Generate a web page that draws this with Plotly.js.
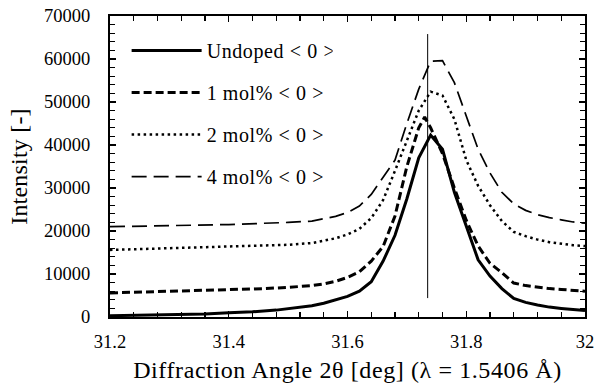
<!DOCTYPE html>
<html>
<head>
<meta charset="utf-8">
<script src="https://cdn.plot.ly/plotly-3.0.1.min.js"></script>
<style>
html,body{margin:0;padding:0;background:#fff;}
#chart{width:598px;height:389px;}
#chart text.xtitle{letter-spacing:0.6px;}
#chart text.ytitle{letter-spacing:0.2px;}
#chart text.legendtext{letter-spacing:0.6px;}
</style>
</head>
<body>
<div id="chart"></div>
<script>
// Series names
const seriesNames = ['Undoped < 0 >', '1 mol% < 0 >', '2 mol% < 0 >', '4 mol% < 0 >'];

// Undoped
const xUndoped = [31.20,31.24,31.30,31.36,31.40,31.44,31.48,31.50,31.52,31.54,31.56,31.58,31.60,31.62,31.64,31.66,31.68,31.70,31.72,31.74,31.76,31.78,31.80,31.82,31.84,31.86,31.88,31.90,31.92,31.94,31.96,31.98,32.00];
const yUndoped = [300,400,500,700,1000,1200,1600,1900,2200,2600,3200,4000,4800,6000,8200,13000,19000,27500,37000,42300,39000,29000,21000,13300,9500,6600,4300,3400,2800,2300,2000,1700,1500];

// 1 mol%
const x1mol = [31.20,31.26,31.30,31.36,31.40,31.46,31.50,31.54,31.56,31.58,31.60,31.62,31.64,31.66,31.68,31.70,31.72,31.73,31.74,31.76,31.78,31.80,31.82,31.84,31.86,31.88,31.90,31.92,31.94,31.96,31.98,32.00];
const y1mol = [5600,5800,6000,6100,6300,6600,6900,7300,7700,8300,9200,10500,13000,16400,23500,35000,44000,46500,44000,38000,30000,22500,16500,12500,10300,7900,7300,6900,6600,6400,6200,6000];

// 2 mol%
const x2mol = [31.20,31.30,31.40,31.50,31.54,31.58,31.60,31.62,31.64,31.66,31.68,31.70,31.72,31.74,31.76,31.78,31.80,31.82,31.84,31.86,31.88,31.90,31.92,31.94,31.96,31.98,32.00];
const y2mol = [15600,16000,16400,16800,17200,18300,19200,20500,23000,27200,34000,41000,48000,52400,51500,46000,36500,30500,26000,22300,19800,18800,18000,17400,17000,16700,16500];

// 4 mol%
const x4mol = [31.20,31.30,31.40,31.50,31.54,31.58,31.60,31.62,31.64,31.66,31.68,31.70,31.72,31.74,31.76,31.78,31.80,31.82,31.84,31.86,31.88,31.90,31.92,31.94,31.96,31.98,32.00];
const y4mol = [21000,21200,21500,22000,22300,23400,24300,25800,28500,32500,36500,45000,53000,59500,59600,54500,47000,39000,33500,29000,26300,24800,23800,23100,22600,22100,21800];

// Reference vertical line
const refLineX = [31.735];
const refLineY = [4400, 65800];

// Axis ticks
const xTickVals = [31.2, 31.4, 31.6, 31.8, 32];
const xTickText = ['31.2', '31.4', '31.6', '31.8', '32'];
const yTickVals = [0, 10000, 20000, 30000, 40000, 50000, 60000, 70000];
const yTickText = ['0', '10000', '20000', '30000', '40000', '50000', '60000', '70000'];

const FONT = 'Liberation Serif, Times New Roman, serif';

const traces = [
  {x: xUndoped, y: yUndoped, name: seriesNames[0], line: {color: '#000', width: 3, dash: 'solid'}},
  {x: x1mol, y: y1mol, name: seriesNames[1], line: {color: '#000', width: 3, dash: '8px,4px'}},
  {x: x2mol, y: y2mol, name: seriesNames[2], line: {color: '#000', width: 2.5, dash: '2.5px,3.5px'}},
  {x: x4mol, y: y4mol, name: seriesNames[3], line: {color: '#000', width: 1.7, dash: '15px,7px'}}
].map((t, i) => Object.assign({type: 'scatter', mode: 'lines', legendgroup: 'g' + i}, t));

const layout = {
  width: 598, height: 389,
  margin: {l: 110, r: 13, t: 16, b: 72},
  paper_bgcolor: '#fff', plot_bgcolor: '#fff',
  font: {family: FONT, color: '#000', size: 18.5},
  showlegend: true,
  legend: {x: 0.035, y: 0.95, xanchor: 'left', yanchor: 'top', bgcolor: 'rgba(0,0,0,0)',
           font: {family: FONT, size: 20, color: '#000'}, tracegroupgap: 13, itemwidth: 70},
  xaxis: {
    range: [31.2, 32], tickvals: xTickVals, ticktext: xTickText,
    showgrid: false, zeroline: false, showline: true, linecolor: '#000', linewidth: 2,
    mirror: 'ticks', ticks: 'inside', ticklen: 6, tickwidth: 1.2, tickcolor: '#000',
    minor: {dtick: 0.04, ticks: 'inside', ticklen: 5, tickwidth: 1.2, tickcolor: '#000', showgrid: false},
    tickfont: {family: FONT, size: 18.5, color: '#000'}, ticklabelstandoff: 7,
    title: {text: 'Diffraction Angle 2θ [deg] (λ = 1.5406 Å)', font: {family: FONT, size: 24, color: '#000'}, standoff: 10}
  },
  yaxis: {
    range: [0, 70000], tickvals: yTickVals, ticktext: yTickText,
    showgrid: false, zeroline: false, showline: true, linecolor: '#000', linewidth: 2,
    mirror: 'ticks', ticks: 'inside', ticklen: 6, tickwidth: 1.2, tickcolor: '#000',
    minor: {dtick: 2000, ticks: 'inside', ticklen: 5, tickwidth: 1.2, tickcolor: '#000', showgrid: false},
    tickfont: {family: FONT, size: 18.5, color: '#000'}, ticklabelstandoff: 14,
    title: {text: 'Intensity [-]', font: {family: FONT, size: 24, color: '#000'}, standoff: 10}
  },
  shapes: [{type: 'line', xref: 'x', yref: 'y', x0: refLineX[0], x1: refLineX[0], y0: refLineY[0], y1: refLineY[1],
            line: {color: '#000', width: 1}}]
};

Plotly.newPlot('chart', traces, layout, {displayModeBar: false, staticPlot: true});
</script>
</body>
</html>
